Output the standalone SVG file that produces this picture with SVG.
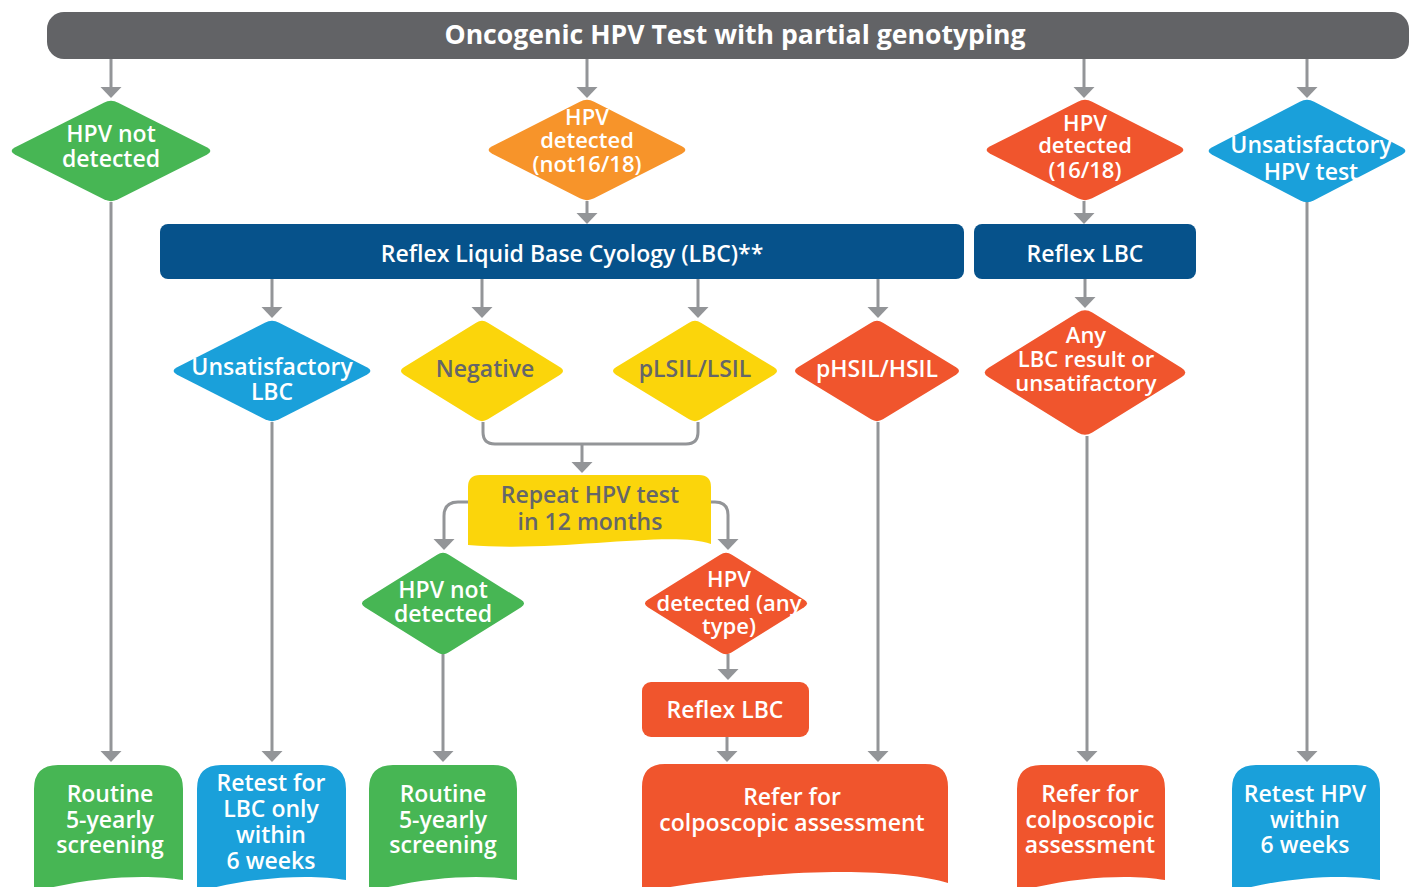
<svg xmlns="http://www.w3.org/2000/svg" xmlns:xlink="http://www.w3.org/1999/xlink" width="1416" height="887" viewBox="0 0 1416 887">
<style>
text{font-family:"Open Sans","Liberation Sans",sans-serif;font-weight:600;font-size:23px;text-anchor:middle;fill:#ffffff}
.dk{fill:#656669}
.t22{font-size:22px}
.title{font-size:26.6px;font-weight:700}
.conn{fill:none;stroke:#939598;stroke-width:3}
.arr{marker-end:url(#ah)}
.green{fill:#47b654}.orange{fill:#f7942a}.red{fill:#f0552d}.blue{fill:#1aa0da}.navy{fill:#06528b}.yellow{fill:#fbd50b}.gray{fill:#626366}
</style>
<defs>
<marker id="ah" markerUnits="userSpaceOnUse" viewBox="0 -11 11 22" refX="9" refY="0" markerWidth="11" markerHeight="22" orient="auto">
<path d="M0,-10.5 L11,0 L0,10.5 Z" fill="#939598"/>
</marker>
<path id="dia" d="M0.07,-0.93 L0.93,-0.07 Q1,0 0.93,0.07 L0.07,0.93 Q0,1 -0.07,0.93 L-0.93,0.07 Q-1,0 -0.93,-0.07 L-0.07,-0.93 Q0,-1 0.07,-0.93 Z"/>
</defs>

<g id="connectors">
<path class="conn arr" d="M111,59 V96"/>
<path class="conn arr" d="M587,59 V96"/>
<path class="conn arr" d="M1084,59 V96"/>
<path class="conn arr" d="M1307,59 V96"/>
<path class="conn arr" d="M587,201 V222"/>
<path class="conn arr" d="M1084,201 V222"/>
<path class="conn arr" d="M272,279 V316"/>
<path class="conn arr" d="M482,279 V316"/>
<path class="conn arr" d="M698,279 V316"/>
<path class="conn arr" d="M878,279 V316"/>
<path class="conn arr" d="M1085,279 V306"/>
<path class="conn" d="M483,422 V432 Q483,444 495,444 H686 Q698,444 698,432 V422"/>
<path class="conn arr" d="M582,444 V471"/>
<path class="conn arr" d="M469,502 H458 Q444,502 444,516 V548"/>
<path class="conn arr" d="M710,502 H715 Q728,502 728,515 V548"/>
<path class="conn arr" d="M728,654 V678"/>
<path class="conn arr" d="M727,737 V760"/>
<path class="conn arr" d="M111,202 V760"/>
<path class="conn arr" d="M272,422 V760"/>
<path class="conn arr" d="M443,654 V760"/>
<path class="conn arr" d="M878,422 V760"/>
<path class="conn arr" d="M1087,436 V760"/>
<path class="conn arr" d="M1307,202 V760"/>
</g>

<g id="n-top">
<rect class="gray" x="47" y="12" width="1362" height="47" rx="17"/>
<text class="title" x="735" y="44">Oncogenic HPV Test with partial genotyping</text>
</g>

<g id="n-hpv-not-detected">
<use xlink:href="#dia" class="green" transform="translate(111,151) scale(103,52)"/>
<text x="111" y="142">HPV not</text>
<text x="111" y="167">detected</text>
</g>

<g id="n-hpv-not1618">
<use xlink:href="#dia" class="orange" transform="translate(587,150) scale(102,52)"/>
<text class="t22" x="587" y="125">HPV</text>
<text class="t22" x="587" y="148">detected</text>
<text class="t22" x="587" y="172">(not16/18)</text>
</g>

<g id="n-hpv-1618">
<use xlink:href="#dia" class="red" transform="translate(1085,150) scale(102,52)"/>
<text class="t22" x="1085" y="131">HPV</text>
<text class="t22" x="1085" y="153">detected</text>
<text class="t22" x="1085" y="178">(16/18)</text>
</g>

<g id="n-unsat-hpv">
<use xlink:href="#dia" class="blue" transform="translate(1307,151) scale(102,53)"/>
<text x="1311" y="153">Unsatisfactory</text>
<text x="1311" y="180">HPV test</text>
</g>

<g id="n-reflex-lbc-main">
<rect class="navy" x="160" y="224" width="804" height="55" rx="8"/>
<text x="572" y="262">Reflex Liquid Base Cyology (LBC)**</text>
</g>

<g id="n-reflex-lbc-1618">
<rect class="navy" x="974" y="224" width="222" height="55" rx="8"/>
<text x="1085" y="262">Reflex LBC</text>
</g>

<g id="n-unsat-lbc">
<use xlink:href="#dia" class="blue" transform="translate(272,371) scale(102,52)"/>
<text x="272" y="375">Unsatisfactory</text>
<text x="272" y="400">LBC</text>
</g>

<g id="n-negative">
<use xlink:href="#dia" class="yellow" transform="translate(482,371) scale(84,52)"/>
<text class="dk" x="485" y="377">Negative</text>
</g>

<g id="n-plsil">
<use xlink:href="#dia" class="yellow" transform="translate(695,371) scale(85,52)"/>
<text class="dk" x="695" y="377">pLSIL/LSIL</text>
</g>

<g id="n-phsil">
<use xlink:href="#dia" class="red" transform="translate(877,371) scale(85,52)"/>
<text x="877" y="377">pHSIL/HSIL</text>
</g>

<g id="n-any-lbc">
<use xlink:href="#dia" class="red" transform="translate(1085,372.5) scale(104,64.5)"/>
<text class="t22" x="1086" y="343">Any</text>
<text class="t22" x="1086" y="367">LBC result or</text>
<text class="t22" x="1086" y="391">unsatifactory</text>
</g>

<g id="n-repeat">
<path class="yellow" d="M468,487 Q468,475 480,475 H699 Q711,475 711,487 V544 C670,530 560,553 468,545 Z"/>
<text class="dk" x="590" y="503">Repeat HPV test</text>
<text class="dk" x="590" y="530">in 12 months</text>
</g>

<g id="n-hpv-not-detected-2">
<use xlink:href="#dia" class="green" transform="translate(443,603.5) scale(84,52.5)"/>
<text x="443" y="598">HPV not</text>
<text x="443" y="622">detected</text>
</g>

<g id="n-hpv-any">
<use xlink:href="#dia" class="red" transform="translate(726,603.5) scale(84,52.5)"/>
<text class="t22" x="729" y="587">HPV</text>
<text class="t22" x="729" y="611">detected (any</text>
<text class="t22" x="729" y="634">type)</text>
</g>

<g id="n-reflex-lbc-2">
<rect class="red" x="642" y="682" width="167" height="55" rx="9"/>
<text x="725" y="718">Reflex LBC</text>
</g>

<g id="n-routine-1">
<path class="green" d="M34,892 V789 Q34,765 58,765 H159 Q183,765 183,789 V880 C150,874 90,876 34,892 Z"/>
<text x="110" y="802">Routine</text>
<text x="110" y="828">5-yearly</text>
<text x="110" y="853">screening</text>
</g>

<g id="n-retest-lbc">
<path class="blue" d="M197,892 V789 Q197,765 221,765 H322 Q346,765 346,789 V880 C313,874 253,876 197,892 Z"/>
<text x="271" y="791">Retest for</text>
<text x="271" y="817">LBC only</text>
<text x="271" y="843">within</text>
<text x="271" y="869">6 weeks</text>
</g>

<g id="n-routine-2">
<path class="green" d="M369,892 V789 Q369,765 393,765 H493 Q517,765 517,789 V880 C484,874 424,876 369,892 Z"/>
<text x="443" y="802">Routine</text>
<text x="443" y="828">5-yearly</text>
<text x="443" y="853">screening</text>
</g>

<g id="n-refer-big">
<path class="red" d="M642,892 V787 Q642,764 665,764 H925 Q948,764 948,787 V883 C900,868 780,866 642,892 Z"/>
<text x="792" y="805">Refer for</text>
<text x="792" y="831">colposcopic assessment</text>
</g>

<g id="n-refer-small">
<path class="red" d="M1017,892 V789 Q1017,765 1041,765 H1141 Q1165,765 1165,789 V880 C1132,874 1072,876 1017,892 Z"/>
<text x="1090" y="802">Refer for</text>
<text x="1090" y="828">colposcopic</text>
<text x="1090" y="853">assessment</text>
</g>

<g id="n-retest-hpv">
<path class="blue" d="M1232,892 V789 Q1232,765 1256,765 H1356 Q1380,765 1380,789 V880 C1347,874 1287,876 1232,892 Z"/>
<text x="1305" y="802">Retest HPV</text>
<text x="1305" y="828">within</text>
<text x="1305" y="853">6 weeks</text>
</g>
</svg>
